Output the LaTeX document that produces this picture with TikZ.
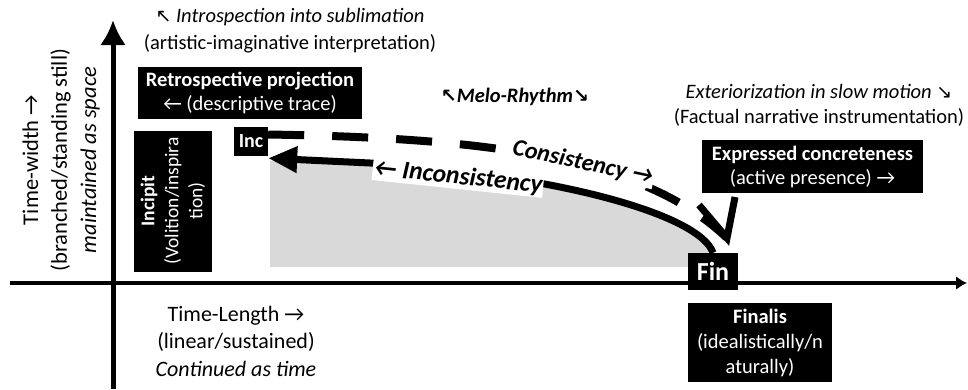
\documentclass[tikz,border=0pt]{standalone}
\usepackage{fontspec}
\setmainfont{Carlito}
\newfontfamily\dejavu{DejaVu Sans}
\usetikzlibrary{arrows.meta}
\definecolor{grayfill}{RGB}{217,217,217}
\newcommand{\nwarr}{{\dejavu\fontsize{19}{19}\selectfont ↖}}
\newcommand{\searr}{{\dejavu\fontsize{19}{19}\selectfont ↘}}
\tikzset{
  lbl/.style={font=\fontsize{20.5}{26}\selectfont, align=center, inner sep=0pt},
  blk/.style={fill=black, text=white, font=\fontsize{20.5}{24}\selectfont, align=center, inner sep=0pt},
  axisline/.style={line width=#1, draw=black},
  flowline/.style={line width=7pt, draw=black},
  dashline/.style={line width=8pt, draw=black, dash pattern=on 36pt off 28pt},
  curvelbl/.style={fill=white, inner sep=1pt, font=\bfseries\itshape\fontsize{#1}{#1}\selectfont}
}
\begin{document}
\begin{tikzpicture}[x=1pt,y=-1pt]
\useasboundingbox (0,0) rectangle (968,389);

% coordinates
\coordinate (ybot) at (113,389);
\coordinate (ytop) at (113,20);
\coordinate (xl) at (10,283);
\coordinate (xr) at (967,283);
\coordinate (bend) at (370,163);
\coordinate (dtip) at (727,238);

% gray area
\fill[grayfill] (270,161) -- (370,164) .. controls (560,176) and (700,216) .. (713,253) -- (713,267) -- (270,267) -- cycle;

% axes
\draw[axisline=5pt, -{Latex[length=25pt,width=26pt]}] (ybot) -- (ytop);
\draw[axisline=4pt, -{Latex[length=11pt,width=14pt]}] (xl) -- (xr);

% boxes
\node[blk, minimum width=224pt, minimum height=52pt] (retro) at (250,93) {\textbf{Retrospective projection}\\← (descriptive trace)};
\node[blk, font=\fontsize{19.5}{24}\selectfont, rotate=90, minimum width=141pt, minimum height=78pt] (incipit) at (173,201) {\textbf{Incipit}\\(Volition/inspira\\tion)};
\node[blk, font=\bfseries\fontsize{20}{20}\selectfont, minimum width=34pt, minimum height=29pt] (inc) at (251,141.5) {Inc};
\node[blk, minimum width=221pt, minimum height=53pt] (expr) at (812.5,166.5) {\textbf{Expressed concreteness}\\(active presence) →};
\node[blk, font=\bfseries\fontsize{26}{26}\selectfont, minimum width=50pt, minimum height=37pt] (fin) at (713,271.5) {Fin};
\node[blk, font=\fontsize{20.5}{25}\selectfont, minimum width=144pt, minimum height=79pt] (finalis) at (760,342.5) {\textbf{Finalis}\\(idealistically/n\\aturally)};

% free texts
\node[lbl, font=\fontsize{20.5}{27}\selectfont] (intro) at (290,31) {\nwarr\ \textit{Introspection into sublimation}\\(artistic-imaginative interpretation)};
\node[lbl, font=\bfseries\itshape\fontsize{20.5}{26}\selectfont] (melo) at (515,97) {\nwarr Melo-Rhythm\searr};
\node[lbl, font=\fontsize{20.5}{25}\selectfont] (exter) at (819,105.5) {\textit{Exteriorization in slow motion} \searr\\(Factual narrative instrumentation)};
\node[lbl, font=\fontsize{22}{27.5}\selectfont] (tlen) at (236,341) {Time-Length →\\(linear/sustained)\\\textit{Continued as time}};
\node[lbl, rotate=90, font=\fontsize{22.5}{29}\selectfont] (twid) at (61,160) {Time-width →\\(branched/standing still)\\\textit{maintained as space}};

% connectors
\draw[flowline, -{Triangle[length=29pt,width=25pt]}] (fin.north) .. controls (700,215) and (560,175) .. (bend) -- ([yshift=-2pt]inc.south east);
\draw[dashline] ([yshift=7pt]inc.east) .. controls (480,138) and (640,155) .. (dtip);
\draw[flowline, line join=miter] ([shift={(-28,-33)}]dtip) -- (dtip) -- ([shift={(8,-41)}]dtip);

% connector labels
\node[curvelbl=25.5, rotate=-6] (incons) at (458,177) {← Inconsistency};
\node[curvelbl=24, rotate=-12] (cons) at (583,163) {Consistency →};
\end{tikzpicture}
\end{document}
